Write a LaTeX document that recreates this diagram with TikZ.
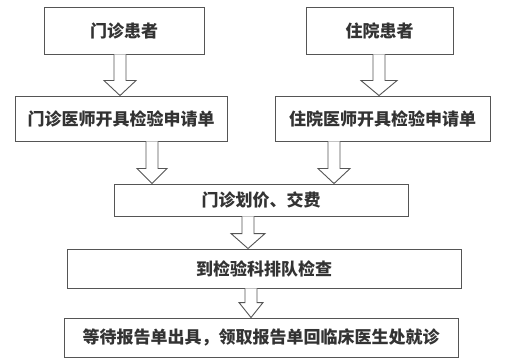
\documentclass[tikz,border=0pt]{standalone}
\usepackage{fontspec}
\setmainfont{Noto Sans CJK SC}
\usepackage{tikz}
\usetikzlibrary{calc}
\usepackage{xcolor}

\definecolor{txt}{HTML}{333333}
\definecolor{edge}{HTML}{555555}

% hollow block arrow: x, from node, to node, head half width
\newcommand{\hollowarrow}[4]{%
  \draw[blk] let \p1=(#2.south), \p2=(#3.north) in
    (#1-6,\y1) -- (#1-6,\y2+15pt) -- (#1-#4,\y2+15pt) -- (#1,\y2)
    -- (#1+#4,\y2+15pt) -- (#1+6,\y2+15pt) -- (#1+6,\y1);}

\begin{document}
\begin{tikzpicture}[
  x=1pt, y=-1pt,
  font=\bfseries\fontsize{17}{19}\selectfont,
  box/.style={draw=edge, line width=0.9pt, text=txt, inner sep=0pt,
              align=center},
  blk/.style={draw=edge, line width=0.9pt, fill=white}
]
\useasboundingbox (0,0) rectangle (505,363);
\node[box, minimum width=160pt, minimum height=47pt] (mz) at (124,30.5) {门诊患者};
\node[box, minimum width=147pt, minimum height=47pt] (zy) at (379.5,30.5) {住院患者};
\node[box, minimum width=212pt, minimum height=45pt] (mzys) at (121,118.5) {门诊医师开具检验申请单};
\node[box, minimum width=215pt, minimum height=45pt] (zyys) at (382.5,118.5) {住院医师开具检验申请单};
\node[box, minimum width=294pt, minimum height=32pt] (jf) at (261,200) {门诊划价、交费};
\node[box, minimum width=394pt, minimum height=39pt] (jc) at (264,268.5) {到检验科排队检查};
\node[box, minimum width=394pt, minimum height=39pt] (bg) at (261,337.5) {等待报告单出具，领取报告单回临床医生处就诊};
\hollowarrow{120}{mz}{mzys}{16}
\hollowarrow{379}{zy}{zyys}{18}
\hollowarrow{152}{mzys}{jf}{15}
\hollowarrow{334}{zyys}{jf}{16}
\hollowarrow{248}{jf}{jc}{17}
\hollowarrow{251}{jc}{bg}{12}
\end{tikzpicture}
\end{document}
